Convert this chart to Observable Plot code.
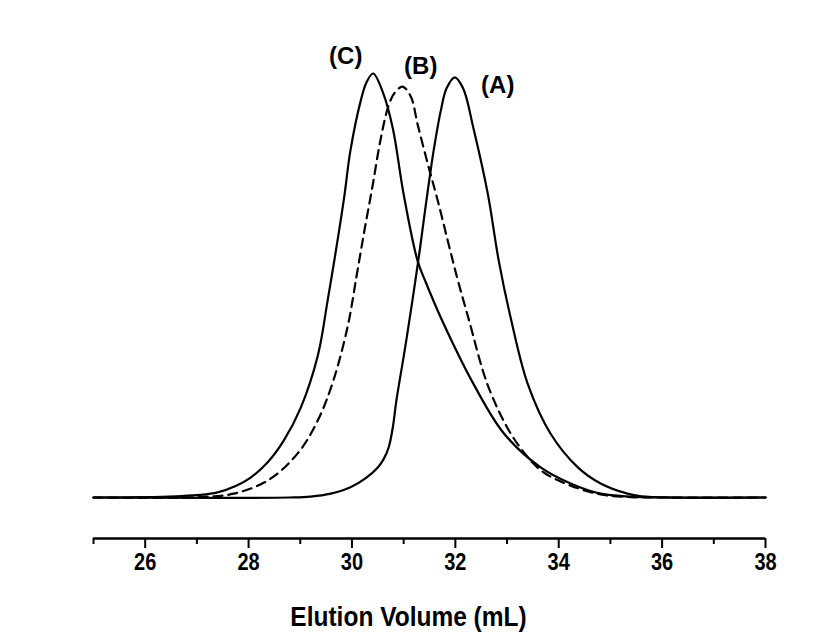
<!DOCTYPE html>
<html>
<head>
<meta charset="utf-8">
<script src="https://cdn.jsdelivr.net/npm/d3@7"></script>
<script src="https://cdn.jsdelivr.net/npm/@observablehq/plot@0.6"></script>
<style>
  body { margin: 0; background: #fff; }
</style>
</head>
<body>
<div id="chart"></div>
<script>
// Sample (A) - solid
const volA = [25, 28.8, 29.2, 29.59, 29.97, 30.26, 30.50, 30.61, 30.71, 30.79, 30.86, 31.02, 31.17, 31.31, 31.44, 31.58, 31.72, 31.83, 31.99, 32.15, 32.35, 32.63, 32.84, 33.07, 33.40, 33.84, 34.37, 34.81, 35.33, 35.6, 36.2, 38];
const sigA = [0, 0, 0.002, 0.009, 0.024, 0.045, 0.071, 0.090, 0.118, 0.165, 0.229, 0.347, 0.465, 0.582, 0.700, 0.818, 0.913, 0.965, 0.991, 0.965, 0.871, 0.715, 0.558, 0.424, 0.268, 0.151, 0.071, 0.033, 0.009, 0.003, 0, 0];

// Sample (B) - dashed
const volB = [25, 27.07, 27.71, 28.37, 28.95, 29.34, 29.64, 29.92, 30.09, 30.24, 30.40, 30.55, 30.71, 30.83, 30.98, 31.14, 31.27, 31.46, 31.66, 31.91, 32.06, 32.26, 32.63, 33.07, 33.46, 33.71, 34.23, 34.81, 35.39, 36, 38];
const sigB = [0, 0.001, 0.009, 0.040, 0.104, 0.182, 0.276, 0.405, 0.523, 0.629, 0.736, 0.842, 0.925, 0.955, 0.969, 0.945, 0.880, 0.790, 0.700, 0.578, 0.507, 0.420, 0.264, 0.151, 0.087, 0.059, 0.028, 0.007, 0.001, 0, 0];

// Sample (C) - solid
const volC = [25, 26, 26.6, 27.07, 27.4, 27.75, 28.04, 28.37, 28.68, 29.01, 29.34, 29.53, 29.84, 29.97, 30.17, 30.28, 30.41, 30.6, 30.79, 31.0, 31.27, 31.43, 31.72, 32.35, 32.94, 33.65, 34.23, 34.81, 35.4, 36, 38];
const sigC = [0, 0.001, 0.003, 0.006, 0.012, 0.027, 0.047, 0.083, 0.134, 0.212, 0.335, 0.465, 0.700, 0.818, 0.936, 0.979, 1.0, 0.955, 0.871, 0.715, 0.558, 0.507, 0.424, 0.268, 0.151, 0.071, 0.033, 0.009, 0.002, 0, 0];

const majorTicks = [26, 28, 30, 32, 34, 36, 38];
const minorTicks = [25, 27, 29, 31, 33, 35, 37];
const peakLabels = ["(A)", "(B)", "(C)"];
const labelVol = [32.82, 31.33, 29.88];
const labelSig = [0.972, 1.017, 1.040];
const xLabel = "Elution Volume (mL)";

const yMin = -0.0967, yMax = 1.125;

const toRows = (vol, sig) => vol.map((v, i) => ({vol: v, sig: sig[i]}));
const dataA = toRows(volA, sigA);
const dataB = toRows(volB, sigB);
const dataC = toRows(volC, sigC);
const labels = peakLabels.map((t, i) => ({t, vol: labelVol[i], sig: labelSig[i]}));

const font = "Arial, 'Liberation Sans', sans-serif";

const chart = Plot.plot({
  width: 819,
  height: 634,
  marginLeft: 93,
  marginRight: 54,
  marginTop: 20,
  marginBottom: 96,
  x: {domain: [25, 38], label: null},
  y: {domain: [yMin, yMax], axis: null},
  style: {fontFamily: font, color: "#000", background: "#fff", overflow: "visible"},
  marks: [
    Plot.ruleY([yMin], {stroke: "#000", strokeWidth: 2.5}),
    Plot.axisX({ticks: minorTicks, tickSize: 6, tickFormat: () => "", strokeWidth: 2, label: null}),
    Plot.axisX({ticks: majorTicks, tickSize: 10, tickPadding: 5, tickFormat: d => String(d), fontSize: 20, fontWeight: "bold", strokeWidth: 2, label: null}),
    Plot.line(dataA, {x: "vol", y: "sig", curve: "catmull-rom", stroke: "#000", strokeWidth: 2.2}),
    Plot.line(dataB, {x: "vol", y: "sig", curve: "catmull-rom", stroke: "#000", strokeWidth: 2.2, strokeDasharray: "9,6"}),
    Plot.line(dataC, {x: "vol", y: "sig", curve: "catmull-rom", stroke: "#000", strokeWidth: 2.2}),
    Plot.text(labels, {x: "vol", y: "sig", text: "t", fontSize: 24, fontWeight: "bold", fill: "#000"}),
    Plot.text([xLabel], {frameAnchor: "bottom", dx: -21, dy: 78, lineAnchor: "middle", fontSize: 24.5, fontWeight: "bold", fill: "#000"})
  ]
});

// slight vertical stretch of axis texts as in the reference
const stretchSet = new Set([xLabel, ...majorTicks.map(String)]);
d3.select(chart).selectAll("text").each(function () {
  if (stretchSet.has(this.textContent)) {
    const t = this.getAttribute("transform") || "";
    this.setAttribute("transform", t + " scale(1,1.15)");
  }
});

document.getElementById("chart").appendChild(chart);
</script>
</body>
</html>
